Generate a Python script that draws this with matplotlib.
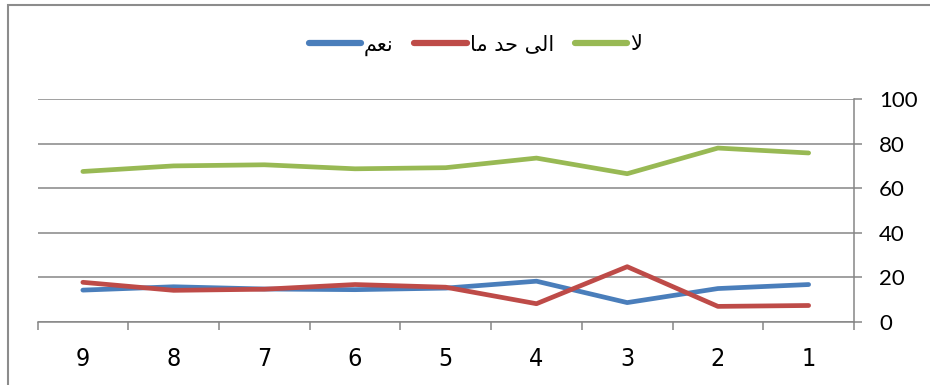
import matplotlib
matplotlib.use('Agg')
import matplotlib.pyplot as plt
from matplotlib.patches import Rectangle
from matplotlib import font_manager
import numpy as np

# survey answers in percent, items 9 .. 1 from left to right
items = ['9', '8', '7', '6', '5', '4', '3', '2', '1']
yes = [14.3, 15.8, 14.8, 14.5, 15.2, 18.3, 8.7, 15.0, 16.8]
somewhat = [17.8, 14.2, 14.7, 16.8, 15.6, 8.2, 24.8, 7.0, 7.4]
no = [67.5, 70.0, 70.5, 68.7, 69.2, 73.5, 66.5, 78.0, 75.8]

names = ['نعم', 'الى حد ما', 'لا']
colors = ['#4a7ebb', '#be4b48', '#98b954']

# presentation forms: isolated, final, initial, medial
forms = {
    'ا': ('\ufe8d', '\ufe8e', None, None),
    'د': ('\ufea9', '\ufeaa', None, None),
    'ى': ('\ufeef', '\ufef0', None, None),
    'ل': ('\ufedd', '\ufede', '\ufedf', '\ufee0'),
    'ح': ('\ufea1', '\ufea2', '\ufea3', '\ufea4'),
    'م': ('\ufee1', '\ufee2', '\ufee3', '\ufee4'),
    'ن': ('\ufee5', '\ufee6', '\ufee7', '\ufee8'),
    'ع': ('\ufec9', '\ufeca', '\ufecb', '\ufecc'),
    'ﻻ': ('\ufefb', '\ufefc', None, None),
}


def shape(s):
    # matplotlib has no arabic shaping, so join letters by hand
    s = s.replace('لا', 'ﻻ')
    out = []
    for i, c in enumerate(s):
        if c not in forms:
            out.append(c)
            continue
        prev = s[i - 1] if i > 0 else ' '
        nxt = s[i + 1] if i + 1 < len(s) else ' '
        jp = prev in forms and forms[prev][2] is not None
        jn = nxt in forms and forms[c][2] is not None
        f = forms[c]
        if jp and jn:
            out.append(f[3])
        elif jp:
            out.append(f[1])
        elif jn:
            out.append(f[2])
        else:
            out.append(f[0])
    return ''.join(out)[::-1]


narrow = font_manager.FontProperties(family='DejaVu Sans', stretch='condensed', size=18)

fig = plt.figure(figsize=(9.3, 3.85), dpi=100)
fig.patches.append(Rectangle((7.5 / 930, -0.1), 1.2, 1.1 - 5 / 385,
                             transform=fig.transFigure, fill=False,
                             edgecolor='#8c8c8c', linewidth=1.5))

ax = fig.add_axes([37.5 / 930, 1 - 322 / 385, (854 - 37.5) / 930, (322 - 99) / 385])
x = np.arange(len(items))
for vals, name, c in zip([yes, somewhat, no], names, colors):
    ax.plot(x, vals, color=c, linewidth=3.4, solid_capstyle='round',
            solid_joinstyle='round', label=shape(name))

ax.set_xlim(-0.5, len(items) - 0.5)
ax.set_ylim(0, 100)
ax.set_yticks(np.arange(0, 101, 20))
ax.set_xticks(x)
ax.set_xticklabels(items, fontproperties=narrow)
ax.set_xticks(np.arange(-0.5, len(items)), minor=True)
ax.tick_params(axis='x', which='major', length=0, pad=18)
ax.tick_params(axis='x', which='minor', length=6, width=1.1, color='#868686')
ax.yaxis.tick_right()
ax.tick_params(axis='y', length=6, width=1.1, color='#868686', pad=12,
               labelsize=16, labelfontfamily='Lato')
ax.grid(axis='y', color='#868686', linewidth=1.1)
ax.set_axisbelow(True)
for side in ['top', 'left']:
    ax.spines[side].set_visible(False)
for side in ['bottom', 'right']:
    ax.spines[side].set_color('#868686')
    ax.spines[side].set_linewidth(1.1)

leg = fig.legend(loc='center', bbox_to_anchor=(0.511, 1 - 45 / 385), ncol=3,
                 frameon=False, prop={'family': 'DejaVu Sans', 'size': 15},
                 handlelength=2.5, handletextpad=0.15, columnspacing=1.0)
for h in leg.get_lines():
    h.set_linewidth(4.5)
    h.set_solid_capstyle('round')

fig.savefig('out.png', dpi=100)
